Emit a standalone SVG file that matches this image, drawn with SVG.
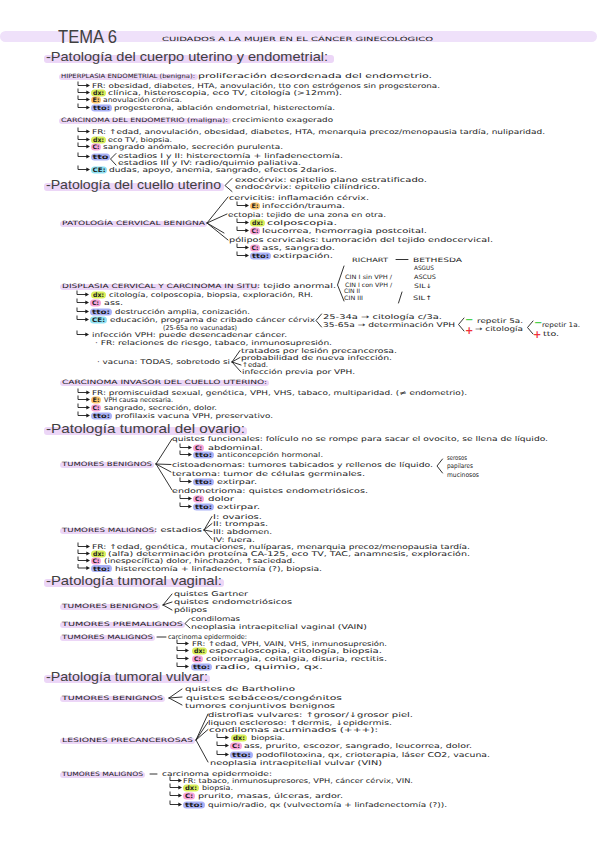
<svg xmlns="http://www.w3.org/2000/svg" xmlns:xlink="http://www.w3.org/1999/xlink" width="599" height="848" viewBox="0 0 599 848">
<style>
.t{font-family:"DejaVu Sans","Liberation Sans",sans-serif;font-size:6.6px;fill:#1c1c1c}
.u{font-family:"DejaVu Sans","Liberation Sans",sans-serif;font-size:6px;fill:#1c1c1c}
.lb{font-family:"DejaVu Sans","Liberation Sans",sans-serif;font-size:6.2px;font-weight:bold;fill:#1c1c1c}
.h{font-family:"Liberation Sans","DejaVu Sans",sans-serif;font-size:13px;fill:#404040}
.ti{font-family:"Liberation Sans","DejaVu Sans",sans-serif;font-size:18px;fill:#404040}
.sub{font-family:"DejaVu Sans","Liberation Sans",sans-serif;font-size:5.8px;fill:#1c1c1c}
.bd{fill:#ecd6f7}
.pdx{fill:#d9ef5a}.pe{fill:#fcc46c}.pc{fill:#f7a4d9}.ptto{fill:#a9b1f7}.pce{fill:#8fe1f3}
.ln{fill:none;stroke:#1c1c1c;stroke-width:0.9;stroke-linecap:round;stroke-linejoin:round}
.gr{font-family:"DejaVu Sans",sans-serif;font-size:10px;font-weight:bold;fill:#4cd04c}
.rd{font-family:"DejaVu Sans",sans-serif;font-size:10px;font-weight:bold;fill:#f03038}
</style>
<defs>
<g id="hook"><path d="M0,-6.5V-2.5H9.5" fill="none" stroke="#1c1c1c" stroke-width="0.9"/><path d="M8.3,-4.6L12,-2.5L8.3,-0.4Z" fill="#1c1c1c"/></g>
</defs>
<rect width="599" height="848" fill="#ffffff"/>

<g id="title">
<rect x="0" y="31" width="597" height="11" rx="5.5" fill="#efe1fa"/>
<text class="ti" x="58" y="43" textLength="59" lengthAdjust="spacingAndGlyphs">TEMA 6</text>
<text class="sub" x="162" y="41" textLength="271" lengthAdjust="spacingAndGlyphs">CUIDADOS A LA MUJER  EN EL CÁNCER  GINECOLÓGICO</text>
</g>

<g id="cuerpo-uterino">
<rect class="bd" x="44" y="55" width="290" height="8" rx="3"/>
<text class="h" x="46" y="61" textLength="282" lengthAdjust="spacingAndGlyphs">-Patología del cuerpo uterino y endometrial:</text>
<rect class="bd" x="59" y="74" width="139" height="6" rx="3"/>
<text class="u" x="61" y="78" textLength="134" lengthAdjust="spacingAndGlyphs">HIPERPLASIA ENDOMETRIAL (benigna):</text>
<text class="t" x="198" y="78" textLength="234" lengthAdjust="spacingAndGlyphs">proliferación desordenada del endometrio.</text>
<text class="t" x="92" y="88" textLength="348" lengthAdjust="spacingAndGlyphs">FR: obesidad, diabetes, HTA, anovulación, tto con estrógenos sin progesterona.</text>
<rect class="pdx" x="91" y="89.5" width="15" height="7" rx="3.5"/><text class="lb" x="93" y="95" textLength="11" lengthAdjust="spacingAndGlyphs">dx:</text>
<text class="t" x="108" y="95" textLength="234" lengthAdjust="spacingAndGlyphs">clínica, histeroscopia, eco TV, citología (&gt;12mm).</text>
<rect class="pe" x="91" y="96.5" width="10" height="7" rx="3.5"/><text class="lb" x="92.5" y="102" textLength="7" lengthAdjust="spacingAndGlyphs">E:</text>
<text class="t" x="103" y="102" textLength="79" lengthAdjust="spacingAndGlyphs">anovulación crónica.</text>
<rect class="ptto" x="91" y="104.5" width="21" height="7" rx="3.5"/><text class="lb" x="93" y="110" textLength="17" lengthAdjust="spacingAndGlyphs">tto:</text>
<text class="t" x="114" y="110" textLength="221" lengthAdjust="spacingAndGlyphs">progesterona, ablación endometrial, histerectomía.</text>
<rect class="bd" x="59" y="118" width="172" height="6" rx="3"/>
<text class="u" x="61" y="122" textLength="167" lengthAdjust="spacingAndGlyphs">CARCINOMA DEL ENDOMETRIO (maligna):</text>
<text class="t" x="232" y="122" textLength="101" lengthAdjust="spacingAndGlyphs">crecimiento exagerado</text>
<text class="t" x="92" y="134" textLength="453" lengthAdjust="spacingAndGlyphs">FR: ↑edad, anovulación, obesidad, diabetes, HTA, menarquia precoz/menopausia tardía, nuliparidad.</text>
<rect class="pdx" x="91" y="136.5" width="15" height="7" rx="3.5"/><text class="lb" x="93" y="142" textLength="11" lengthAdjust="spacingAndGlyphs">dx:</text>
<text class="t" x="108" y="142" textLength="64" lengthAdjust="spacingAndGlyphs">eco TV, biopsia.</text>
<rect class="pc" x="91" y="143.5" width="10" height="7" rx="3.5"/><text class="lb" x="92.5" y="149" textLength="7" lengthAdjust="spacingAndGlyphs">C:</text>
<text class="t" x="103" y="149" textLength="180" lengthAdjust="spacingAndGlyphs">sangrado anómalo, secreción purulenta.</text>
<rect class="ptto" x="91" y="153.5" width="19" height="7" rx="3.5"/><text class="lb" x="92.5" y="159" textLength="16" lengthAdjust="spacingAndGlyphs">tto</text>
<text class="t" x="118" y="158" textLength="225" lengthAdjust="spacingAndGlyphs">estadios I y II: histerectomía + linfadenectomía.</text>
<text class="t" x="118" y="165" textLength="183" lengthAdjust="spacingAndGlyphs">estadios III y IV: radio/quimio paliativa.</text>
<rect class="pce" x="91" y="166.5" width="16" height="7" rx="3.5"/><text class="lb" x="92.5" y="172" textLength="13" lengthAdjust="spacingAndGlyphs">CE:</text>
<text class="t" x="109" y="172" textLength="228" lengthAdjust="spacingAndGlyphs">dudas, apoyo, anemia, sangrado, efectos 2darios.</text>
</g>

<g id="cuello-uterino">
<rect class="bd" x="44" y="183" width="180" height="8" rx="3"/>
<text class="h" x="46" y="189" textLength="175" lengthAdjust="spacingAndGlyphs">-Patología del cuello uterino</text>
<text class="t" x="235" y="182" textLength="192" lengthAdjust="spacingAndGlyphs">exocérvix: epitelio plano estratificado.</text>
<text class="t" x="235" y="189" textLength="145" lengthAdjust="spacingAndGlyphs">endocérvix: epitelio cilíndrico.</text>
<rect class="bd" x="60" y="221" width="147" height="6" rx="3"/>
<text class="u" x="62" y="225" textLength="143" lengthAdjust="spacingAndGlyphs">PATOLOGÍA CERVICAL BENIGNA</text>
<text class="t" x="229" y="200" textLength="140" lengthAdjust="spacingAndGlyphs">cervicitis: inflamación cérvix.</text>
<rect class="pe" x="250" y="202.5" width="10" height="7" rx="3.5"/><text class="lb" x="251.5" y="208" textLength="7" lengthAdjust="spacingAndGlyphs">E:</text>
<text class="t" x="262" y="208" textLength="83" lengthAdjust="spacingAndGlyphs">infección/trauma.</text>
<text class="t" x="228" y="217" textLength="158" lengthAdjust="spacingAndGlyphs">ectopia: tejido de una zona en otra.</text>
<rect class="pdx" x="250" y="219.5" width="15" height="7" rx="3.5"/><text class="lb" x="252" y="225" textLength="11" lengthAdjust="spacingAndGlyphs">dx:</text>
<text class="t" x="267" y="225" textLength="70" lengthAdjust="spacingAndGlyphs">colposcopia.</text>
<rect class="pc" x="250" y="227.5" width="10" height="7" rx="3.5"/><text class="lb" x="251.5" y="233" textLength="7" lengthAdjust="spacingAndGlyphs">C:</text>
<text class="t" x="262" y="233" textLength="165" lengthAdjust="spacingAndGlyphs">leucorrea, hemorragia postcoital.</text>
<text class="t" x="229" y="242" textLength="264" lengthAdjust="spacingAndGlyphs">pólipos cervicales: tumoración del tejido endocervical.</text>
<rect class="pc" x="250" y="244.5" width="10" height="7" rx="3.5"/><text class="lb" x="251.5" y="250" textLength="7" lengthAdjust="spacingAndGlyphs">C:</text>
<text class="t" x="262" y="250" textLength="73" lengthAdjust="spacingAndGlyphs">ass, sangrado.</text>
<rect class="ptto" x="250" y="252.5" width="21" height="7" rx="3.5"/><text class="lb" x="252" y="258" textLength="17" lengthAdjust="spacingAndGlyphs">tto:</text>
<text class="t" x="273" y="258" textLength="60" lengthAdjust="spacingAndGlyphs">extirpación.</text>

<text class="u" x="352" y="262" textLength="36" lengthAdjust="spacingAndGlyphs">RICHART</text>
<text class="u" x="413" y="262" textLength="49" lengthAdjust="spacingAndGlyphs">BETHESDA</text>
<text class="u" x="414" y="270" textLength="20" lengthAdjust="spacingAndGlyphs">ASGUS</text>
<text class="u" x="414" y="279" textLength="22" lengthAdjust="spacingAndGlyphs">ASCUS</text>
<text class="u" x="414" y="288" textLength="18" lengthAdjust="spacingAndGlyphs">SIL↓</text>
<text class="u" x="413" y="300" textLength="19" lengthAdjust="spacingAndGlyphs">SIL↑</text>
<text class="u" x="345" y="279" textLength="47" lengthAdjust="spacingAndGlyphs">CIN I sin VPH /</text>
<text class="u" x="345" y="287" textLength="47" lengthAdjust="spacingAndGlyphs">CIN I con VPH /</text>
<text class="u" x="344" y="293" textLength="16" lengthAdjust="spacingAndGlyphs">CIN II</text>
<text class="u" x="344" y="300" textLength="19" lengthAdjust="spacingAndGlyphs">CIN III</text>

<rect class="bd" x="60" y="284" width="199" height="6" rx="3"/>
<text class="u" x="62" y="288" textLength="195" lengthAdjust="spacingAndGlyphs">DISPLASIA CERVICAL Y CARCINOMA IN SITU</text>
<text class="t" x="257" y="288" textLength="79" lengthAdjust="spacingAndGlyphs">: tejido anormal.</text>
<rect class="pdx" x="91" y="291.5" width="15" height="7" rx="3.5"/><text class="lb" x="93" y="297" textLength="11" lengthAdjust="spacingAndGlyphs">dx:</text>
<text class="t" x="109" y="297" textLength="204" lengthAdjust="spacingAndGlyphs">citología, colposcopia, biopsia, exploración, RH.</text>
<rect class="pc" x="90" y="299.5" width="11" height="7" rx="3.5"/><text class="lb" x="92" y="305" textLength="7" lengthAdjust="spacingAndGlyphs">C:</text>
<text class="t" x="104" y="305" textLength="19" lengthAdjust="spacingAndGlyphs">ass.</text>
<rect class="ptto" x="90" y="308.5" width="22" height="7" rx="3.5"/><text class="lb" x="92" y="314" textLength="18" lengthAdjust="spacingAndGlyphs">tto:</text>
<text class="t" x="115" y="314" textLength="135" lengthAdjust="spacingAndGlyphs">destrucción amplia, conización.</text>
<rect class="pce" x="90" y="316.5" width="17" height="7" rx="3.5"/><text class="lb" x="92" y="322" textLength="13" lengthAdjust="spacingAndGlyphs">CE:</text>
<text class="t" x="110" y="322" textLength="205" lengthAdjust="spacingAndGlyphs">educación, programa de cribado cáncer cérvix</text>
<text class="t" x="163" y="330" textLength="74" lengthAdjust="spacingAndGlyphs">(25-65a no vacunadas)</text>
<text class="t" x="323" y="319" textLength="119" lengthAdjust="spacingAndGlyphs">25-34a → citología c/3a.</text>
<text class="t" x="323" y="327" textLength="132" lengthAdjust="spacingAndGlyphs">35-65a → determinación VPH</text>
<text class="gr" x="465" y="323">−</text>
<text class="t" x="477" y="323" textLength="46" lengthAdjust="spacingAndGlyphs">repetir 5a.</text>
<text class="rd" x="465" y="334">+</text>
<text class="t" x="475" y="331" textLength="48" lengthAdjust="spacingAndGlyphs">→ citología</text>
<text class="gr" x="534" y="326">−</text>
<text class="t" x="542" y="327" textLength="38" lengthAdjust="spacingAndGlyphs">repetir 1a.</text>
<text class="rd" x="533" y="338">+</text>
<text class="t" x="543" y="336" textLength="16" lengthAdjust="spacingAndGlyphs">tto.</text>
<text class="t" x="92" y="337" textLength="195" lengthAdjust="spacingAndGlyphs">infección VPH: puede desencadenar cáncer.</text>
<text class="t" x="95" y="345" textLength="237" lengthAdjust="spacingAndGlyphs">· FR: relaciones de riesgo, tabaco, inmunosupresión.</text>
<text class="t" x="97" y="364" textLength="133" lengthAdjust="spacingAndGlyphs">· vacuna: TODAS, sobretodo si</text>
<text class="t" x="241" y="353" textLength="156" lengthAdjust="spacingAndGlyphs">tratados por lesión precancerosa.</text>
<text class="t" x="241" y="360" textLength="151" lengthAdjust="spacingAndGlyphs">probabilidad de nueva infección.</text>
<text class="t" x="242" y="367" textLength="26" lengthAdjust="spacingAndGlyphs">↑edad.</text>
<text class="t" x="242" y="374" textLength="113" lengthAdjust="spacingAndGlyphs">infección previa por VPH.</text>

<rect class="bd" x="60" y="380" width="209" height="6" rx="3"/>
<text class="u" x="62" y="384" textLength="205" lengthAdjust="spacingAndGlyphs">CARCINOMA INVASOR DEL CUELLO UTERINO:</text>
<text class="t" x="92" y="395" textLength="375" lengthAdjust="spacingAndGlyphs">FR: promiscuidad sexual, genética, VPH, VHS, tabaco, multiparidad. (≠ endometrio).</text>
<rect class="pe" x="91" y="396.5" width="10" height="7" rx="3.5"/><text class="lb" x="92.5" y="402" textLength="7" lengthAdjust="spacingAndGlyphs">E:</text>
<text class="t" x="104" y="402" textLength="69" lengthAdjust="spacingAndGlyphs">VPH causa necesaria.</text>
<rect class="pc" x="91" y="404.5" width="10" height="7" rx="3.5"/><text class="lb" x="92.5" y="410" textLength="7" lengthAdjust="spacingAndGlyphs">C:</text>
<text class="t" x="104" y="410" textLength="113" lengthAdjust="spacingAndGlyphs">sangrado, secreción, dolor.</text>
<rect class="ptto" x="91" y="412.5" width="21" height="7" rx="3.5"/><text class="lb" x="93" y="418" textLength="17" lengthAdjust="spacingAndGlyphs">tto:</text>
<text class="t" x="115" y="418" textLength="158" lengthAdjust="spacingAndGlyphs">profilaxis vacuna VPH, preservativo.</text>
</g>

<g id="ovario">
<rect class="bd" x="44" y="427" width="203" height="8" rx="3"/>
<text class="h" x="46" y="433" textLength="199" lengthAdjust="spacingAndGlyphs">-Patología tumoral del ovario:</text>
<rect class="bd" x="60" y="462" width="94" height="6" rx="3"/>
<text class="u" x="62" y="466" textLength="90" lengthAdjust="spacingAndGlyphs">TUMORES BENIGNOS</text>
<text class="t" x="172" y="441" textLength="376" lengthAdjust="spacingAndGlyphs">quistes funcionales: folículo no se rompe para sacar el ovocito, se llena de líquido.</text>
<rect class="pc" x="193" y="444.5" width="11" height="7" rx="3.5"/><text class="lb" x="195" y="450" textLength="7" lengthAdjust="spacingAndGlyphs">C:</text>
<text class="t" x="208" y="450" textLength="55" lengthAdjust="spacingAndGlyphs">abdominal.</text>
<rect class="ptto" x="193" y="451.5" width="21" height="7" rx="3.5"/><text class="lb" x="195" y="457" textLength="17" lengthAdjust="spacingAndGlyphs">tto:</text>
<text class="t" x="217" y="457" textLength="106" lengthAdjust="spacingAndGlyphs">anticoncepción hormonal.</text>
<text class="t" x="172" y="467" textLength="261" lengthAdjust="spacingAndGlyphs">cistoadenomas: tumores tabicados y rellenos de líquido.</text>
<text class="t" x="447" y="460" textLength="20" lengthAdjust="spacingAndGlyphs">serosos</text>
<text class="t" x="447" y="468" textLength="26" lengthAdjust="spacingAndGlyphs">papilares</text>
<text class="t" x="447" y="477" textLength="32" lengthAdjust="spacingAndGlyphs">mucinosos</text>
<text class="t" x="172" y="476" textLength="193" lengthAdjust="spacingAndGlyphs">teratoma: tumor de células germinales.</text>
<rect class="ptto" x="193" y="478.5" width="21" height="7" rx="3.5"/><text class="lb" x="195" y="484" textLength="17" lengthAdjust="spacingAndGlyphs">tto:</text>
<text class="t" x="217" y="484" textLength="40" lengthAdjust="spacingAndGlyphs">extirpar.</text>
<text class="t" x="172" y="493" textLength="196" lengthAdjust="spacingAndGlyphs">endometrioma: quistes endometriósicos.</text>
<rect class="pc" x="193" y="495.5" width="11" height="7" rx="3.5"/><text class="lb" x="195" y="501" textLength="7" lengthAdjust="spacingAndGlyphs">C:</text>
<text class="t" x="208" y="501" textLength="26" lengthAdjust="spacingAndGlyphs">dolor</text>
<rect class="ptto" x="193" y="503.5" width="21" height="7" rx="3.5"/><text class="lb" x="195" y="509" textLength="17" lengthAdjust="spacingAndGlyphs">tto:</text>
<text class="t" x="217" y="509" textLength="43" lengthAdjust="spacingAndGlyphs">extirpar.</text>
<rect class="bd" x="60" y="528" width="96" height="6" rx="3"/>
<text class="u" x="62" y="532" textLength="92" lengthAdjust="spacingAndGlyphs">TUMORES MALIGNOS</text>
<text class="t" x="154" y="532" textLength="48" lengthAdjust="spacingAndGlyphs">: estadios</text>
<text class="t" x="213" y="519" textLength="49" lengthAdjust="spacingAndGlyphs">I: ovarios.</text>
<text class="t" x="213" y="526" textLength="55" lengthAdjust="spacingAndGlyphs">II: trompas.</text>
<text class="t" x="213" y="534" textLength="59" lengthAdjust="spacingAndGlyphs">III: abdomen.</text>
<text class="t" x="213" y="542" textLength="42" lengthAdjust="spacingAndGlyphs">IV: fuera.</text>
<text class="t" x="92" y="549" textLength="378" lengthAdjust="spacingAndGlyphs">FR: ↑edad, genética, mutaciones, nulíparas, menarquia precoz/menopausia tardía.</text>
<rect class="pdx" x="91" y="550.5" width="15" height="7" rx="3.5"/><text class="lb" x="93" y="556" textLength="11" lengthAdjust="spacingAndGlyphs">dx:</text>
<text class="t" x="108" y="556" textLength="362" lengthAdjust="spacingAndGlyphs">(alfa) determinación proteína CA-125, eco TV, TAC, anamnesis, exploración.</text>
<rect class="pc" x="91" y="557.5" width="10" height="7" rx="3.5"/><text class="lb" x="92.5" y="563" textLength="7" lengthAdjust="spacingAndGlyphs">C:</text>
<text class="t" x="104" y="563" textLength="191" lengthAdjust="spacingAndGlyphs">(inespecífica) dolor, hinchazón, ↑saciedad.</text>
<rect class="ptto" x="91" y="565" width="21" height="7" rx="3.5"/><text class="lb" x="93" y="570.5" textLength="17" lengthAdjust="spacingAndGlyphs">tto:</text>
<text class="t" x="115" y="570.5" textLength="207" lengthAdjust="spacingAndGlyphs">histerectomía + linfadenectomía (?), biopsia.</text>
</g>

<g id="vaginal">
<rect class="bd" x="44" y="579" width="180" height="8" rx="3"/>
<text class="h" x="46" y="585" textLength="176" lengthAdjust="spacingAndGlyphs">-Patología tumoral vaginal:</text>
<rect class="bd" x="60" y="604" width="100" height="6" rx="3"/>
<text class="u" x="62" y="608" textLength="96" lengthAdjust="spacingAndGlyphs">TUMORES BENIGNOS</text>
<text class="t" x="174" y="596" textLength="74" lengthAdjust="spacingAndGlyphs">quistes Gartner</text>
<text class="t" x="174" y="604" textLength="118" lengthAdjust="spacingAndGlyphs">quistes endometriósicos</text>
<text class="t" x="174" y="612" textLength="33" lengthAdjust="spacingAndGlyphs">pólipos</text>
<rect class="bd" x="60" y="622" width="125" height="6" rx="3"/>
<text class="u" x="62" y="626" textLength="121" lengthAdjust="spacingAndGlyphs">TUMORES PREMALIGNOS</text>
<text class="t" x="191" y="621" textLength="49" lengthAdjust="spacingAndGlyphs">condilomas</text>
<text class="t" x="191" y="629" textLength="176" lengthAdjust="spacingAndGlyphs">neoplasia intraepitelial vaginal (VAIN)</text>
<rect class="bd" x="60" y="635" width="95" height="6" rx="3"/>
<text class="u" x="62" y="639" textLength="91" lengthAdjust="spacingAndGlyphs">TUMORES MALIGNOS</text>
<text class="t" x="168" y="639" textLength="79" lengthAdjust="spacingAndGlyphs">carcinoma epidermoide:</text>
<text class="t" x="192" y="646" textLength="195" lengthAdjust="spacingAndGlyphs">FR: ↑edad, VPH, VAIN, VHS, inmunosupresión.</text>
<rect class="pdx" x="192" y="647.5" width="15" height="7" rx="3.5"/><text class="lb" x="194" y="653" textLength="11" lengthAdjust="spacingAndGlyphs">dx:</text>
<text class="t" x="209" y="653" textLength="173" lengthAdjust="spacingAndGlyphs">especuloscopia, citología, biopsia.</text>
<rect class="pc" x="192" y="655.5" width="11" height="7" rx="3.5"/><text class="lb" x="194" y="661" textLength="7" lengthAdjust="spacingAndGlyphs">C:</text>
<text class="t" x="206" y="661" textLength="181" lengthAdjust="spacingAndGlyphs">coitorragia, coitalgia, disuria, rectitis.</text>
<rect class="ptto" x="191" y="663.5" width="21" height="7" rx="3.5"/><text class="lb" x="193" y="669" textLength="17" lengthAdjust="spacingAndGlyphs">tto:</text>
<text class="t" x="215" y="669" textLength="108" lengthAdjust="spacingAndGlyphs">radio, quimio, qx.</text>
</g>

<g id="vulvar">
<rect class="bd" x="44" y="675" width="166" height="8" rx="3"/>
<text class="h" x="46" y="681" textLength="162" lengthAdjust="spacingAndGlyphs">-Patología tumoral vulvar:</text>
<rect class="bd" x="60" y="696" width="105" height="6" rx="3"/>
<text class="u" x="62" y="700" textLength="101" lengthAdjust="spacingAndGlyphs">TUMORES BENIGNOS</text>
<text class="t" x="185" y="691" textLength="110" lengthAdjust="spacingAndGlyphs">quistes de Bartholino</text>
<text class="t" x="186" y="700" textLength="156" lengthAdjust="spacingAndGlyphs">quistes sebáceos/congénitos</text>
<text class="t" x="185" y="708" textLength="150" lengthAdjust="spacingAndGlyphs">tumores conjuntivos benignos</text>
<rect class="bd" x="60" y="738" width="135" height="6" rx="3"/>
<text class="u" x="62" y="742" textLength="131" lengthAdjust="spacingAndGlyphs">LESIONES PRECANCEROSAS</text>
<text class="t" x="208" y="717" textLength="205" lengthAdjust="spacingAndGlyphs">distrofias vulvares: ↑grosor/↓grosor piel.</text>
<text class="t" x="208" y="725" textLength="184" lengthAdjust="spacingAndGlyphs">liquen escleroso: ↑dermis, ↓epidermis.</text>
<text class="t" x="209" y="732" textLength="169" lengthAdjust="spacingAndGlyphs">condilomas acuminados (+++):</text>
<rect class="pdx" x="231" y="734.5" width="16" height="7" rx="3.5"/><text class="lb" x="233" y="740" textLength="12" lengthAdjust="spacingAndGlyphs">dx:</text>
<text class="t" x="251" y="740" textLength="34" lengthAdjust="spacingAndGlyphs">biopsia.</text>
<rect class="pc" x="230" y="742.5" width="12" height="7" rx="3.5"/><text class="lb" x="232" y="748" textLength="8" lengthAdjust="spacingAndGlyphs">C:</text>
<text class="t" x="244" y="748" textLength="228" lengthAdjust="spacingAndGlyphs">ass, prurito, escozor, sangrado, leucorrea, dolor.</text>
<rect class="ptto" x="230" y="751.5" width="23" height="7" rx="3.5"/><text class="lb" x="232" y="757" textLength="19" lengthAdjust="spacingAndGlyphs">tto:</text>
<text class="t" x="256" y="757" textLength="234" lengthAdjust="spacingAndGlyphs">podofilotoxina, qx, crioterapia, láser CO2, vacuna.</text>
<text class="t" x="210" y="765" textLength="172" lengthAdjust="spacingAndGlyphs">neoplasia intraepitelial vulvar (VIN)</text>
<rect class="bd" x="60" y="772" width="85" height="6" rx="3"/>
<text class="u" x="62" y="776" textLength="81" lengthAdjust="spacingAndGlyphs">TUMORES MALIGNOS</text>
<text class="t" x="162" y="776" textLength="110" lengthAdjust="spacingAndGlyphs">carcinoma epidermoide:</text>
<text class="t" x="183" y="783" textLength="230" lengthAdjust="spacingAndGlyphs">FR: tabaco, inmunosupresores, VPH, cáncer cérvix, VIN.</text>
<rect class="pdx" x="183" y="784.5" width="16" height="7" rx="3.5"/><text class="lb" x="185" y="790" textLength="12" lengthAdjust="spacingAndGlyphs">dx:</text>
<text class="t" x="202" y="790" textLength="31" lengthAdjust="spacingAndGlyphs">biopsia.</text>
<rect class="pc" x="183" y="792.5" width="12" height="7" rx="3.5"/><text class="lb" x="185" y="798" textLength="8" lengthAdjust="spacingAndGlyphs">C:</text>
<text class="t" x="198" y="798" textLength="145" lengthAdjust="spacingAndGlyphs">prurito, masas, úlceras, ardor.</text>
<rect class="ptto" x="183" y="801.5" width="22" height="7" rx="3.5"/><text class="lb" x="185" y="807" textLength="18" lengthAdjust="spacingAndGlyphs">tto:</text>
<text class="t" x="208" y="807" textLength="239" lengthAdjust="spacingAndGlyphs">quimio/radio, qx (vulvectomía + linfadenectomía (?)).</text>
</g>

<g id="connectors">
<use href="#hook" x="78" y="88"/><use href="#hook" x="78" y="95"/><use href="#hook" x="78" y="102"/><use href="#hook" x="78" y="110"/>
<use href="#hook" x="78" y="134"/><use href="#hook" x="78" y="142"/><use href="#hook" x="78" y="149"/><use href="#hook" x="78" y="159"/><use href="#hook" x="78" y="172"/>
<path class="ln" d="M116,153.5L110.5,159L116,165"/>
<path class="ln" d="M232,178.5L225,185.5L232,191.5"/>
<path class="ln" d="M207,223L228,197M207,223L227,214M207,223L224,233M207,223L228,240"/>
<use href="#hook" x="237" y="208"/><use href="#hook" x="237" y="225"/><use href="#hook" x="237" y="233"/><use href="#hook" x="237" y="250"/><use href="#hook" x="237" y="258"/>
<path class="ln" d="M396,259.5H408"/>
<path class="ln" d="M344,266L337.5,285L344,301"/>
<path class="ln" d="M402,292L398.5,303"/>
<use href="#hook" x="77" y="297"/><use href="#hook" x="77" y="305"/><use href="#hook" x="77" y="314"/><use href="#hook" x="77" y="322"/><use href="#hook" x="77" y="337"/>
<path class="ln" d="M321.5,314L316,320.5L321.5,327"/>
<path class="ln" d="M464,318L458.5,324.5L464,331"/>
<path class="ln" d="M533,321L527.5,327.5L533,334"/>
<path class="ln" d="M232,362L240,350.5M232,362L240,357.5M232,362L241,365M232,362L241,372"/>
<use href="#hook" x="78" y="395"/><use href="#hook" x="78" y="402"/><use href="#hook" x="78" y="410"/><use href="#hook" x="78" y="418"/>
<path class="ln" d="M156,464L172,439M156,464L171,464.5M156,464L171,472M156,464L172,490"/>
<use href="#hook" x="180" y="450"/><use href="#hook" x="180" y="457"/><use href="#hook" x="180" y="484"/><use href="#hook" x="180" y="501"/><use href="#hook" x="180" y="509"/>
<path class="ln" d="M442.5,459L437,466L442.5,473"/>
<path class="ln" d="M204,530L212,516.5M204,530L212,523.5M204,530L212,531.5M204,530L212,539.5"/>
<use href="#hook" x="78" y="549"/><use href="#hook" x="78" y="556"/><use href="#hook" x="78" y="563"/><use href="#hook" x="78" y="570.5"/>
<path class="ln" d="M163,605L172,594M163,605L172,602M163,605L172,610"/>
<path class="ln" d="M190,618.5L185,623.5L190,628"/>
<path class="ln" d="M157,637H166"/>
<use href="#hook" x="177" y="646"/><use href="#hook" x="177" y="653"/><use href="#hook" x="177" y="661"/><use href="#hook" x="177" y="669"/>
<path class="ln" d="M169,698L182,689M169,698L182,697M169,698L182,705"/>
<path class="ln" d="M196,740L208,714M196,740L208,722M196,740L208,729.5M196,740L208,762"/>
<use href="#hook" x="217" y="740"/><use href="#hook" x="217" y="748"/><use href="#hook" x="217" y="757"/>
<path class="ln" d="M150,774H157"/>
<use href="#hook" x="170" y="783"/><use href="#hook" x="170" y="790"/><use href="#hook" x="170" y="798"/><use href="#hook" x="170" y="807"/>
</g>
</svg>
